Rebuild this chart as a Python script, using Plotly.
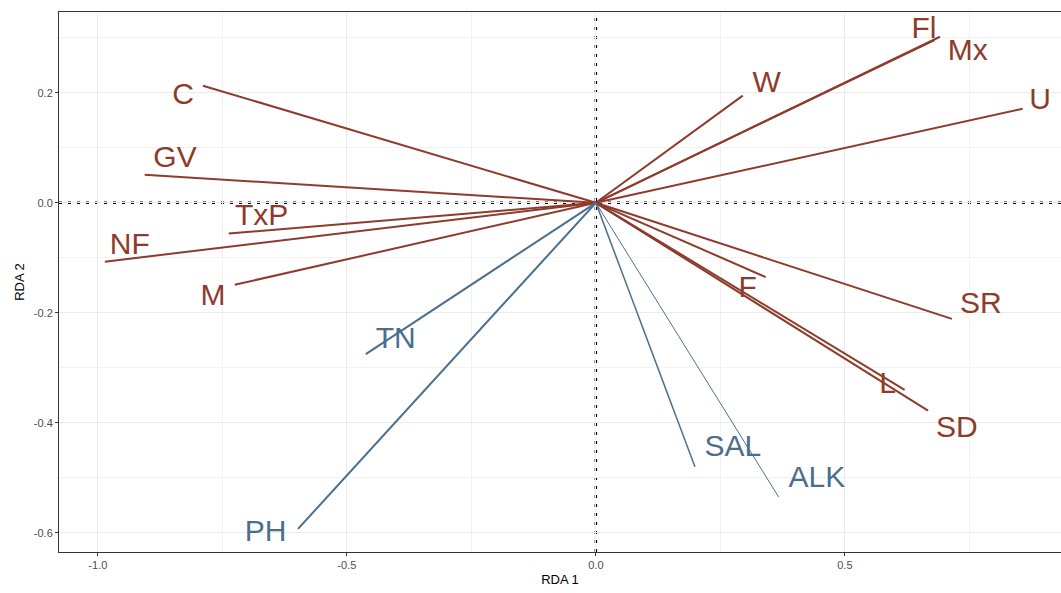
import plotly.graph_objects as go

# Variable names
red_names = ["C", "GV", "TxP", "NF", "M", "W", "Fl", "Mx", "U", "F", "SR", "L", "SD"]
blue_names = ["TN", "PH", "SAL", "ALK"]

# Arrow end points (RDA1, RDA2)
red_x = [-0.789, -0.906, -0.737, -0.986, -0.725, 0.295, 0.691, 0.680, 0.857, 0.341, 0.715, 0.620, 0.667]
red_y = [0.213, 0.051, -0.056, -0.107, -0.149, 0.195, 0.302, 0.296, 0.171, -0.135, -0.211, -0.340, -0.378]
blue_x = [-0.462, -0.598, 0.199, 0.367]
blue_y = [-0.275, -0.593, -0.480, -0.535]

# Label positions
red_lx = [-0.829, -0.845, -0.671, -0.936, -0.769, 0.343, 0.659, 0.747, 0.892, 0.305, 0.773, 0.586, 0.725]
red_ly = [0.193, 0.078, -0.027, -0.080, -0.173, 0.215, 0.313, 0.273, 0.185, -0.158, -0.187, -0.333, -0.413]
blue_lx = [-0.402, -0.663, 0.275, 0.444]
blue_ly = [-0.251, -0.602, -0.447, -0.504]

# Tick labels
x_tickvals = [-1.0, -0.5, 0.0, 0.5]
x_ticktext = ["-1.0", "-0.5", "0.0", "0.5"]
y_tickvals = [-0.6, -0.4, -0.2, 0.0, 0.2]
y_ticktext = ["-0.6", "-0.4", "-0.2", "0.0", "0.2"]

blue_widths = [2.0, 2.0, 1.5, 1.0]

RED = "#8E3B2C"
BLUE = "#4A6F8E"
FONT = "Liberation Sans, Arial, sans-serif"

fig = go.Figure()

fig.add_vline(x=0, line=dict(color="black", width=2.5, dash="3px,6px"), layer="below")
fig.add_hline(y=0, line=dict(color="black", width=2.5, dash="3px,6px"), layer="below")

for i, n in enumerate(red_names):
    fig.add_trace(go.Scatter(x=[0, red_x[i]], y=[0, red_y[i]], mode="lines",
                             line=dict(color=RED, width=2), hoverinfo="skip", showlegend=False))
for i, n in enumerate(blue_names):
    fig.add_trace(go.Scatter(x=[0, blue_x[i]], y=[0, blue_y[i]], mode="lines",
                             line=dict(color=BLUE, width=blue_widths[i]), hoverinfo="skip", showlegend=False))

fig.add_trace(go.Scatter(x=red_lx, y=red_ly, mode="text", text=red_names,
                         textposition="middle center",
                         textfont=dict(family=FONT, size=30, color=RED), showlegend=False))
fig.add_trace(go.Scatter(x=blue_lx, y=blue_ly, mode="text", text=blue_names,
                         textposition="middle center",
                         textfont=dict(family=FONT, size=30, color=BLUE), showlegend=False))

fig.update_layout(
    width=1061, height=593,
    margin=dict(l=59, r=0, t=12, b=41),
    paper_bgcolor="white", plot_bgcolor="white",
    font=dict(family=FONT),
    showlegend=False,
    xaxis=dict(range=[-1.078, 0.934], tickmode="array", tickvals=x_tickvals, ticktext=x_ticktext,
               showgrid=True, gridcolor="#EBEBEB", gridwidth=1,
               minor=dict(tickmode="linear", dtick=0.25, tick0=0, showgrid=True, gridcolor="#F2F2F2", gridwidth=0.6),
               zeroline=False, showline=True, linecolor="#333333", linewidth=1, mirror=True,
               ticks="outside", ticklen=3, tickcolor="#333333",
               tickfont=dict(size=11, color="#4D4D4D"),
               title=dict(text="RDA 1", font=dict(size=13, color="black"), standoff=4)),
    yaxis=dict(range=[-0.635, 0.347], tickmode="array", tickvals=y_tickvals, ticktext=y_ticktext,
               showgrid=True, gridcolor="#EBEBEB", gridwidth=1,
               minor=dict(tickmode="linear", dtick=0.1, tick0=0, showgrid=True, gridcolor="#F2F2F2", gridwidth=0.6),
               zeroline=False, showline=True, linecolor="#333333", linewidth=1, mirror=False,
               ticks="outside", ticklen=3, tickcolor="#333333",
               tickfont=dict(size=11, color="#4D4D4D"),
               title=dict(text="RDA 2", font=dict(size=13, color="black"), standoff=6)),
)

fig.write_html("out.html")
